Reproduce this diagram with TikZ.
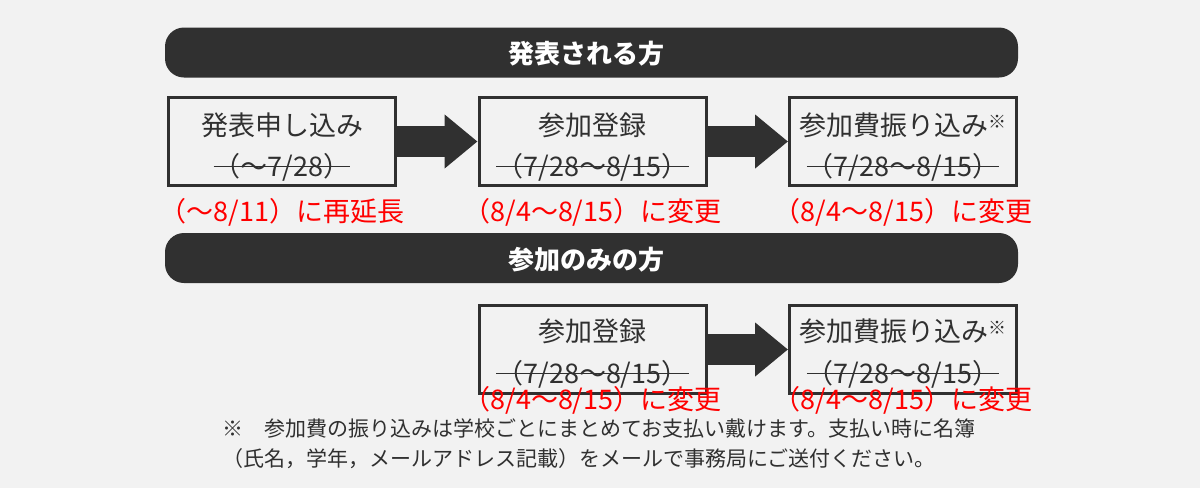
\documentclass[tikz,border=0pt]{standalone}
\usepackage{fontspec}
\setmainfont{Noto Sans CJK JP}
\usepackage{tikz}
\usetikzlibrary{arrows.meta}
\definecolor{bgray}{HTML}{F2F2F2}
\definecolor{darkgray}{HTML}{303030}
\definecolor{redtext}{HTML}{FF0000}
\newcommand{\kome}{\raisebox{7pt}{\fontsize{18}{18}\selectfont ※}}

\begin{document}
\begin{tikzpicture}[x=1pt, y=-1pt,
		header/.style={fill=darkgray, rounded corners=19pt, minimum width=853pt, minimum height=50pt, inner sep=0pt},
		headtext/.style={text=white, font=\fontsize{26}{26}\selectfont\bfseries, anchor=base, inner sep=0pt},
		stepbox/.style={draw=darkgray, line width=3pt, minimum width=227pt, minimum height=88pt, inner sep=0pt},
		label/.style={text=darkgray, font=\fontsize{27}{27}\selectfont, anchor=base, inner sep=0pt},
		newdate/.style={text=redtext, font=\fontsize{27}{27}\selectfont, anchor=base, inner sep=0pt},
		note/.style={text=darkgray, font=\fontsize{21}{21}\selectfont, anchor=base west, inner sep=0pt},
		strike/.style={draw=darkgray, line width=1.5pt},
		bigarrow/.style={draw=darkgray, line width=31pt, -{Triangle[length=33pt, width=52pt]}}]
	\useasboundingbox (0,0) rectangle (1200,488);
	\fill[bgray] (0,0) rectangle (1200,488);
	% presenters
	\node[header] (hdrA) at (591.5,52.5) {};
	\node[headtext] (hdrAt) at (586,63) {発表される方};
	\node[stepbox] (apply) at (282,141.5) {};
	\node[stepbox] (regA) at (592.5,141.5) {};
	\node[stepbox] (payA) at (903,141.5) {};
	\node[label] (applyt) at (282,135.5) {発表申し込み};
	\node[label] (applyd) at (282,176.5) {（～7/28）};
	\node[label] (regAt) at (592.5,135.5) {参加登録};
	\node[label] (regAd) at (592.5,176.5) {（7/28～8/15）};
	\node[label] (payAt) at (903,135.5) {参加費振り込み\kome};
	\node[label] (payAd) at (903,176.5) {（7/28～8/15）};
	\draw[strike] ([yshift=10pt]applyd.base west) -- ([yshift=10pt]applyd.base east);
	\draw[strike] ([yshift=10pt]regAd.base west) -- ([yshift=10pt]regAd.base east);
	\draw[strike] ([yshift=10pt]payAd.base west) -- ([yshift=10pt]payAd.base east);
	\draw[bigarrow] (apply.east) -- (regA.west);
	\draw[bigarrow] (regA.east) -- (payA.west);
	\node[newdate] (applyn) at (282,221.5) {（～8/11）に再延長};
	\node[newdate] (regAn) at (592.5,221.5) {（8/4～8/15）に変更};
	\node[newdate] (payAn) at (903,221.5) {（8/4～8/15）に変更};
	% participants only
	\node[header] (hdrB) at (591.5,258) {};
	\node[headtext] (hdrBt) at (586,269) {参加のみの方};
	\node[stepbox] (regB) at (592.5,349.5) {};
	\node[stepbox] (payB) at (903,349.5) {};
	\node[label] (regBt) at (592.5,341.5) {参加登録};
	\node[label] (regBd) at (592.5,383.5) {（7/28～8/15）};
	\node[label] (payBt) at (903,341.5) {参加費振り込み\kome};
	\node[label] (payBd) at (903,383.5) {（7/28～8/15）};
	\draw[strike] ([yshift=10pt]regBd.base west) -- ([yshift=10pt]regBd.base east);
	\draw[strike] ([yshift=10pt]payBd.base west) -- ([yshift=10pt]payBd.base east);
	\draw[bigarrow] (regB.east) -- (payB.west);
	\node[newdate] (regBn) at (592.5,409.5) {（8/4～8/15）に変更};
	\node[newdate] (payBn) at (903,409.5) {（8/4～8/15）に変更};
	% footnote
	\node[note] (noteA) at (222,436) {※　参加費の振り込みは学校ごとにまとめてお支払い戴けます。支払い時に名簿};
	\node[note] (noteB) at (222,466) {（氏名，学年，メールアドレス記載）をメールで事務局にご送付ください。};
\end{tikzpicture}
\end{document}
